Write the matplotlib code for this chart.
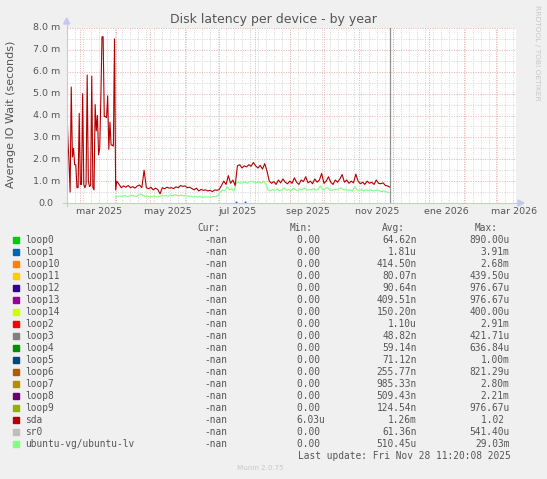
import matplotlib
matplotlib.use("Agg")
import matplotlib.pyplot as plt
import matplotlib.transforms as mtransforms
from matplotlib.lines import Line2D
from matplotlib.patches import Rectangle, Polygon
import numpy as np
import pandas as pd

W, H = 547, 479

# sda, daily from 2025-02-17 (values in ms)
sda_early = [4.6, 3.0, 1.9, 0.5, 5.3, 2.1, 2.5, 1.75, 1.75, 0.7,
             0.7, 4.1, 0.85, 0.85, 5.0, 0.85, 0.7, 0.85, 5.85, 1.0,
             0.75, 0.8, 5.8, 0.7, 0.6, 4.5, 3.3, 4.0, 2.2, 2.5,
             4.8, 7.6, 7.6, 3.95, 3.95, 3.9, 4.9, 2.45, 3.7, 2.65,
             2.65, 2.6, 7.5, 0.6]
# sda, every 2 days from 2025-04-02
sda_late = [1.0, 0.85, 0.7, 0.78, 0.72, 0.8, 0.7, 0.75, 0.68, 0.78,
            0.82, 0.7, 1.5, 0.7, 0.65, 0.72, 0.6, 0.68, 0.62, 0.42,
            0.7, 0.65, 0.72, 0.68, 0.7, 0.66, 0.74, 0.7, 0.8, 0.76,
            0.78, 0.7, 0.72, 0.66, 0.6, 0.68, 0.55, 0.62, 0.58, 0.6,
            0.55, 0.58, 0.52, 0.6, 0.58, 0.62, 0.8, 1.0, 0.85, 1.25,
            0.9, 1.05, 0.8, 1.7, 1.75, 1.6, 1.7, 1.65, 1.75, 1.68,
            1.85, 1.7, 1.6, 1.72, 1.55, 1.8, 1.45, 1.0, 0.9, 0.98,
            0.85, 1.05, 0.92, 1.1, 0.95, 0.88, 1.0, 0.9, 1.15, 0.95,
            0.85, 1.05, 0.98, 1.2, 0.92, 1.0, 0.88, 1.1, 0.95, 1.05,
            1.35, 0.9, 1.0, 1.2, 0.95, 0.85, 1.05, 0.95, 1.1, 1.3,
            0.95, 1.05, 0.9, 1.0, 0.92, 1.32, 1.0, 0.88, 0.95, 0.85,
            1.0, 0.9, 0.95, 0.85, 1.05, 0.9, 0.88, 0.92, 0.8, 0.78,
            0.72]
# ubuntu-vg/ubuntu-lv, every 2 days from 2025-04-01
lv_vals = [0.28, 0.3, 0.32, 0.3, 0.34, 0.3, 0.32, 0.36, 0.33, 0.3,
           0.35, 0.42, 0.34, 0.3, 0.32, 0.28, 0.3, 0.32, 0.28, 0.3,
           0.33, 0.32, 0.34, 0.3, 0.36, 0.32, 0.38, 0.35, 0.33, 0.36,
           0.32, 0.34, 0.3, 0.32, 0.28, 0.3, 0.27, 0.3, 0.26, 0.28,
           0.27, 0.28, 0.26, 0.3, 0.28, 0.35, 0.5, 0.6, 0.55, 0.75,
           0.6, 0.65, 0.55, 0.92, 0.95, 0.9, 0.93, 0.95, 0.9, 0.98,
           1.0, 0.94, 0.92, 0.96, 0.9, 1.0, 0.85, 0.6, 0.55, 0.62,
           0.58, 0.65, 0.55, 0.6, 0.7, 0.58, 0.62, 0.55, 0.68, 0.6,
           0.57, 0.63, 0.6, 0.7, 0.58, 0.62, 0.6, 0.66, 0.58, 0.62,
           0.78, 0.6, 0.65, 0.72, 0.6, 0.58, 0.62, 0.6, 0.65, 0.7,
           0.6, 0.62, 0.58, 0.6, 0.55, 0.75, 0.6, 0.58, 0.62, 0.55,
           0.6, 0.58, 0.6, 0.55, 0.57, 0.6, 0.55, 0.52, 0.55, 0.5,
           0.48]
# loop1, two isolated samples
loop1_dates = ["2025-07-16", "2025-07-24"]
loop1_vals = [0.04, 0.04]

now = pd.Timestamp("2025-11-28 11:20:08")
x_start, x_end = pd.Timestamp("2025-02-17"), pd.Timestamp("2026-03-18 18:00")

xlabel_dates = ["2025-03-17", "2025-05-17", "2025-07-17", "2025-09-17",
                "2025-11-17", "2026-01-17", "2026-03-17"]
xlabel_text = ["mar 2025", "may 2025", "jul 2025", "sep 2025",
               "nov 2025", "ene 2026", "mar 2026"]
yticks = [0, 1, 2, 3, 4, 5, 6, 7, 8]

names = ["loop0", "loop1", "loop10", "loop11", "loop12", "loop13", "loop14",
         "loop2", "loop3", "loop4", "loop5", "loop6", "loop7", "loop8",
         "loop9", "sda", "sr0", "ubuntu-vg/ubuntu-lv"]
colors = ["#00CC00", "#0066B3", "#FF8000", "#FFCC00", "#330099", "#990099",
          "#CCFF00", "#FF0000", "#808080", "#008F00", "#00487D", "#B35A00",
          "#B38F00", "#6B006B", "#8FB300", "#B30000", "#BEBEBE", "#80FF80"]
cur = ["-nan"] * 18
mins = ["0.00 "] * 15 + ["6.03u"] + ["0.00 "] * 2
avgs = ["64.62n", "1.81u", "414.50n", "80.07n", "90.64n", "409.51n",
        "150.20n", "1.10u", "48.82n", "59.14n", "71.12n", "255.77n",
        "985.33n", "509.43n", "124.54n", "1.26m", "61.36n", "510.45u"]
maxs = ["890.00u", "3.91m", "2.68m", "439.50u", "976.67u", "976.67u",
        "400.00u", "2.91m", "421.71u", "636.84u", "1.00m", "821.29u",
        "2.80m", "2.21m", "976.67u", "1.02 ", "541.40u", "29.03m"]

TXT = "#555555"
MAJ = "#EDB0B0"
MIN = "#D6D6D6"
AXC = "#C4C8EE"

fig = plt.figure(figsize=(W / 100, H / 100), dpi=100, facecolor="#F0F0F0")
L, R, T, B = 66.7, 516, 28, 203
ax = fig.add_axes([L / W, 1 - B / H, (R - L) / W, (B - T) / H])
ax.set_facecolor("white")
for s in ax.spines.values():
    s.set_visible(False)

ax.set_xlim(x_start, x_end)
ax.set_ylim(0, 8)

dotted = (0, (1, 1.4))
for d in pd.date_range(x_start, x_end, freq="W-MON"):
    ax.axvline(d, color=MIN, lw=0.72, ls=dotted, zorder=1)
for v in np.arange(0.5, 8, 1.0):
    ax.axhline(v, color=MIN, lw=0.72, ls=dotted, zorder=1)
for d in pd.date_range(x_start, x_end, freq="MS"):
    ax.axvline(d, color=MAJ, lw=0.72, ls=dotted, zorder=1.5)
for v in yticks[1:]:
    ax.axhline(v, color=MAJ, lw=0.72, ls=dotted, zorder=1.5)

sda_dates = list(pd.date_range("2025-02-17", periods=len(sda_early), freq="D")) + \
    list(pd.date_range("2025-04-02", periods=len(sda_late), freq="2D"))
lv_dates = pd.date_range("2025-04-01", periods=len(lv_vals), freq="2D")

ax.plot(lv_dates, lv_vals, color="#80FF80", lw=0.8, zorder=3)
ax.plot(sda_dates, sda_early + sda_late, color="#B30000", lw=0.8, zorder=4)
ax.plot(pd.to_datetime(loop1_dates), loop1_vals, ls="none", marker="s",
        ms=1.3, mew=0, color="#0066B3", zorder=4)
ax.axvline(now, color="#909090", lw=0.9, zorder=5)

ax.set_xticks(pd.to_datetime(xlabel_dates), labels=xlabel_text)
ax.tick_params(axis="x", length=0, pad=3.2, labelsize=6.8, labelcolor=TXT)
ax.set_yticks([])

trans = mtransforms.blended_transform_factory(ax.transAxes, ax.transData)
for v in yticks:
    lab = "0.0" if v == 0 else f"{v:.1f} m"
    xr = 60 if v else 53.5
    ax.text((xr - L) / (R - L), v, lab, transform=trans, ha="right",
            va="center", fontsize=6.8, color=TXT, clip_on=False)


def fx(x):
    return x / W


def fy(y):
    return 1 - y / H


# axis lines with arrows
fig.add_artist(Line2D([fx(L), fx(L)], [fy(206), fy(22)], color=AXC, lw=0.8))
fig.add_artist(Line2D([fx(63), fx(519)], [fy(B), fy(B)], color=AXC, lw=0.8))
fig.add_artist(Polygon([(fx(L - 3), fy(24)), (fx(L + 3), fy(24)), (fx(L), fy(18))],
                       closed=True, color=AXC, transform=fig.transFigure))
fig.add_artist(Polygon([(fx(518), fy(B - 3)), (fx(518), fy(B + 3)), (fx(524), fy(B))],
                       closed=True, color=AXC, transform=fig.transFigure))

fig.text(fx(273.7), fy(19), "Disk latency per device - by year", ha="center",
         va="center", fontsize=9, color=TXT)
fig.text(fx(10.7), fy(114), "Average IO Wait (seconds)", rotation=90,
         ha="center", va="center", fontsize=8, color=TXT)
fig.text(fx(537), fy(53), "RRDTOOL / TOBI OETIKER", rotation=270,
         ha="center", va="center", fontsize=5.4, color="#C8C8C8")

mono = "DejaVu Sans Mono"
fs = 6.85
cw = 5.72
hy = 227.7
for txt, x0 in [("Cur:", 197.7), ("Min:", 290), ("Avg:", 382), ("Max:", 475)]:
    fig.text(fx(x0), fy(hy), txt, family=mono, fontsize=fs, color=TXT,
             ha="left", va="center")
for i, name in enumerate(names):
    y = 240 + 12 * i
    fig.add_artist(Rectangle((fx(13), fy(y + 3)), 6 / W, 6 / H, color=colors[i],
                             transform=fig.transFigure))
    fig.text(fx(25.3), fy(y), name, family=mono, fontsize=fs, color=TXT,
             ha="left", va="center")
    fig.text(fx(204), fy(y), cur[i], family=mono, fontsize=fs, color=TXT,
             ha="left", va="center")
    for s, xr in [(mins[i], 325.3), (avgs[i], 416.7), (maxs[i], 509.3)]:
        fig.text(fx(xr - len(s) * cw), fy(y), s, family=mono, fontsize=fs,
                 color=TXT, ha="left", va="center")
fig.text(fx(297.7), fy(455.7), "Last update: Fri Nov 28 11:20:08 2025",
         family=mono, fontsize=fs, color=TXT, ha="left", va="center")
fig.text(fx(260.8), fy(467.7), "Munin 2.0.75", ha="center", va="center",
         fontsize=5.1, color="#C8C8C8")

fig.savefig("out.png", dpi=100, facecolor=fig.get_facecolor())
